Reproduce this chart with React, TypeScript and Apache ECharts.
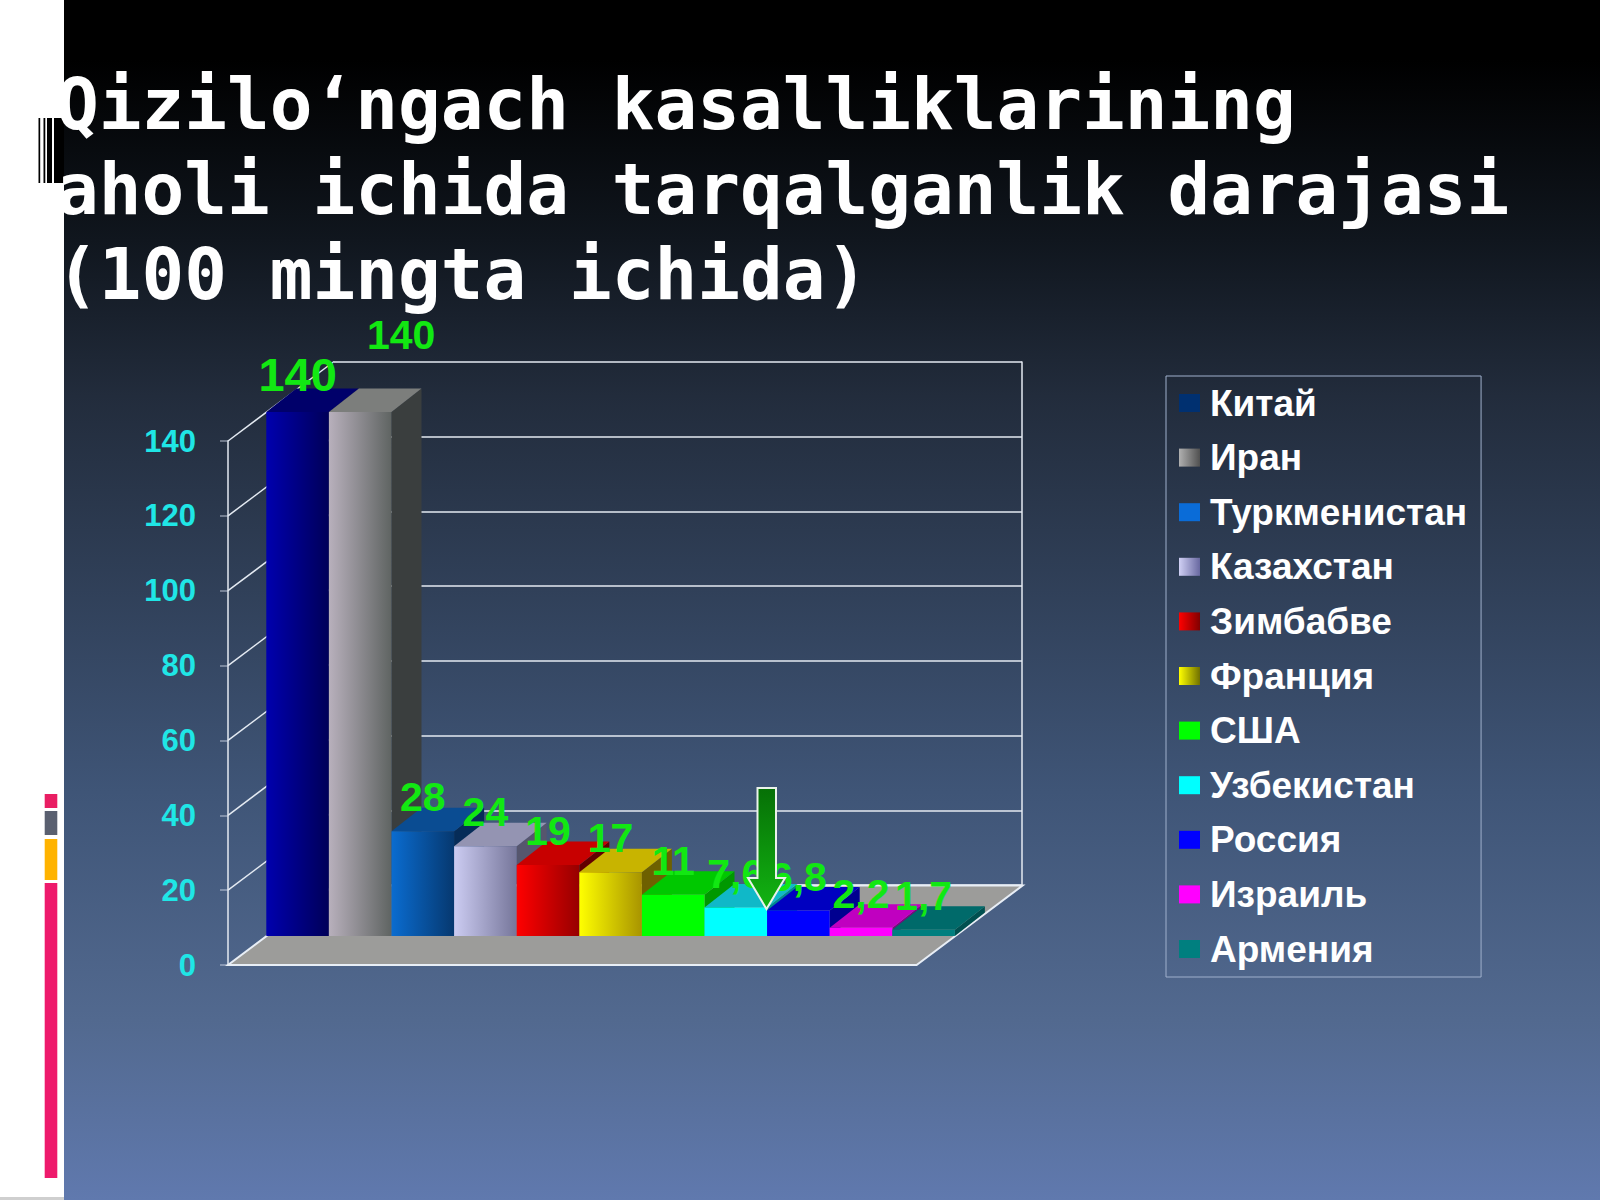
import React, { useEffect, useRef } from "react";
import * as echarts from "echarts";

const titleLines = ["Qizilo‘ngach kasalliklarining", "aholi ichida tarqalganlik darajasi", "(100 mingta ichida)"];
const categories = ["Китай", "Иран", "Туркменистан", "Казахстан", "Зимбабве", "Франция", "США", "Узбекистан", "Россия", "Израиль", "Армения"];
const values = [140, 140, 28, 24, 19, 17, 11, 7.6, 6.8, 2.2, 1.7];
const axisTicks = [0, 20, 40, 60, 80, 100, 120, 140];

const frontColors = [
  ["#0000AE", "#000058"], ["#B8B0BC", "#5F6462"], ["#0A6CD0", "#06386F"], ["#CCCCF2", "#76769A"],
  ["#FF0000", "#960000"], ["#FFFF00", "#A89400"], ["#00FF00", "#00FF00"], ["#00FFFF", "#00FFFF"],
  ["#0000FF", "#0000FF"], ["#FF00FF", "#FF00FF"], ["#007F7F", "#007F7F"],
];
const topColors = ["#00006A", "#7C7E7C", "#0A4C92", "#9494B2", "#C80000", "#C8B400", "#00C800", "#10B8C8", "#0000C0", "#C000C0", "#006A6A"];
const sideColors = ["#000040", "#3A3E3E", "#062C58", "#56566E", "#620000", "#6E6000", "#009800", "#008890", "#000090", "#800080", "#005050"];
const legendColors = [
  ["#003070", "#003070"], ["#B0B0B0", "#505050"], ["#0A6CD8", "#0A6CD8"], ["#D0D0F4", "#6868A0"],
  ["#FF0000", "#800000"], ["#FFFF00", "#707000"], ["#00FF00", "#00FF00"], ["#00FFFF", "#00FFFF"],
  ["#0000FF", "#0000FF"], ["#FF00FF", "#FF00FF"], ["#007F7F", "#007F7F"],
];

const FRONT = { left: 228, top: 441, width: 688.6, height: 524 };
const BACK = { left: 334, top: 362, width: 688, height: 523 };
const WALL_DX = 106;
const WALL_DY = 79.5;
const PLANE_DX = 38.3;
const PLANE_DY = 29;
const BAR_DX = 30;
const BAR_DY = 23.5;

const hGrad = (a: string, b: string) => new echarts.graphic.LinearGradient(0, 0, 1, 0, [{ offset: 0, color: a }, { offset: 1, color: b }]);
const fmt = (v: number) => String(v).replace(".", ",");

const frameItem = (params: any, api: any) => {
  const v = api.value(0);
  const y = api.coord([0, v])[1];
  const x = params.coordSys.x;
  const children: any[] = [];
  if (v === 0) {
    children.push({
      type: "polygon",
      shape: { points: [[x, y], [x + params.coordSys.width, y], [x + params.coordSys.width + WALL_DX, y - WALL_DY], [x + WALL_DX, y - WALL_DY]] },
      style: { fill: "#9C9C9A", stroke: "#E8EEF6", lineWidth: 2 },
    });
  } else {
    children.push({
      type: "line",
      shape: { x1: x, y1: y, x2: x + WALL_DX, y2: y - WALL_DY },
      style: { stroke: "#E4EAF2", lineWidth: 1.5 },
    });
  }
  return { type: "group", children };
};

const barItem = (i: number) => (_params: any, api: any) => {
  const idx = api.value(0);
  const v = api.value(1);
  const top = api.coord([idx, v]);
  const base = api.coord([idx, 0]);
  const w = api.size([1, 0])[0];
  const x0 = top[0] - w / 2 + PLANE_DX;
  const x1 = x0 + w;
  const yT = top[1] - PLANE_DY;
  const yB = base[1] - PLANE_DY;
  let lx = top[0] + PLANE_DX;
  let ly = yT - 34;
  let size = 41;
  if (i === 0) { ly = yT - 38; size = 47; }
  if (i === 1) { lx += 41; ly = yT - 77; size = 41; }
  return {
    type: "group",
    children: [
      { type: "polygon", shape: { points: [[x1, yB], [x1 + BAR_DX, yB - BAR_DY], [x1 + BAR_DX, yT - BAR_DY], [x1, yT]] }, style: { fill: sideColors[i] } },
      { type: "polygon", shape: { points: [[x0, yT], [x1, yT], [x1 + BAR_DX, yT - BAR_DY], [x0 + BAR_DX, yT - BAR_DY]] }, style: { fill: topColors[i] } },
      { type: "rect", shape: { x: x0, y: yT, width: w, height: yB - yT }, style: { fill: hGrad(frontColors[i][0], frontColors[i][1]) } },
      {
        type: "text",
        z2: 200,
        style: {
          x: lx, y: ly, text: fmt(v), align: "center", verticalAlign: "middle", fill: "#12E812",
          fontFamily: "Liberation Sans", fontSize: size, fontWeight: "bold", lineHeight: 30,
        },
      },
    ],
  };
};

const stripeBars = [[44.7, 794, 12.6, 14, "#E91E63"], [44.7, 811, 12.6, 24, "#5A6070"], [44.7, 839, 12.6, 41, "#FFB300"], [44.7, 883, 12.6, 295, "#EE1A6C"]];
const barcode = [[38.5, 1.7], [43.5, 1.8], [47, 5], [54, 10]];

export default function App() {
  const ref = useRef<HTMLDivElement>(null);
  useEffect(() => {
    const chart = echarts.init(ref.current!, null, { renderer: "svg", width: 1600, height: 1200 });
    const graphicEls: any[] = [
      {
        type: "rect", z: -20, shape: { x: 64, y: 0, width: 1536, height: 1200 },
        style: {
          fill: new echarts.graphic.LinearGradient(0, 0, 0, 1, [
            { offset: 0, color: "#000000" }, { offset: 0.05, color: "#000000" }, { offset: 0.2, color: "#10161E" },
            { offset: 0.33, color: "#222C3C" }, { offset: 0.66, color: "#3F5577" }, { offset: 0.85, color: "#52698F" }, { offset: 1, color: "#6079AE" },
          ]),
        },
      },
      { type: "rect", z: -20, shape: { x: 0, y: 1197, width: 64, height: 3 }, style: { fill: "#CFCFCF" } },
      ...stripeBars.map(([x, y, w, h, c]) => ({ type: "rect", z: -10, shape: { x, y, width: w, height: h }, style: { fill: c } })),
      ...barcode.map(([x, w]) => ({ type: "rect", z: -10, shape: { x, y: 118, width: w, height: 65 }, style: { fill: "#000" } })),
      {
        type: "polygon", z: 10,
        shape: { points: [[757.5, 788], [776, 788], [776, 878], [785, 878], [766.5, 909], [748, 878], [757.5, 878]] },
        style: {
          fill: new echarts.graphic.LinearGradient(0, 0, 0, 1, [{ offset: 0, color: "#067006" }, { offset: 1, color: "#12B412" }]),
          stroke: "#EAF2EA", lineWidth: 2,
        },
      },
    ];
    chart.setOption({
      animation: false,
      backgroundColor: "#FFFFFF",
      title: {
        text: titleLines.join("\n"), left: 56, top: 62, padding: 0,
        textStyle: { color: "#FFFFFF", fontFamily: "DejaVu Sans Mono", fontWeight: "bold", fontSize: 71, lineHeight: 85 },
      },
      legend: {
        orient: "vertical", left: 1166, top: 376, padding: [7, 14, 8, 13],
        borderColor: "#9FB0CC", borderWidth: 1, selectedMode: false,
        itemWidth: 21, itemHeight: 18, itemGap: 14.6, align: "left",
        textStyle: { color: "#FFFFFF", fontFamily: "Liberation Sans", fontWeight: "bold", fontSize: 37, lineHeight: 40, padding: [0, 0, 0, 5] },
        data: categories.map((name, i) => ({ name, icon: "rect", itemStyle: { color: hGrad(legendColors[i][0], legendColors[i][1]) } })),
      },
      grid: [{ ...FRONT }, { ...BACK }],
      xAxis: [
        { type: "category", gridIndex: 0, data: categories, show: false },
        { type: "category", gridIndex: 1, data: categories, show: false },
      ],
      yAxis: [
        {
          type: "value", gridIndex: 0, min: 0, max: 140, interval: 20, position: "left",
          axisLine: { show: true, onZero: false, lineStyle: { color: "#E4EAF2", width: 1.5 } },
          axisTick: { show: true, length: 8, lineStyle: { color: "rgba(220,228,240,0.55)", width: 1.5 } },
          splitLine: { show: false },
          axisLabel: { color: "#1FE6E6", fontFamily: "Liberation Sans", fontWeight: "bold", fontSize: 31, margin: 32 },
        },
        {
          type: "value", gridIndex: 1, min: 0, max: 140, interval: 20, position: "right",
          axisLine: { show: true, onZero: false, lineStyle: { color: "#E4EAF2", width: 1.5 } },
          axisTick: { show: false }, axisLabel: { show: false },
          splitLine: { show: true, lineStyle: { color: "#E4EAF2", width: 1.5 } },
        },
      ],
      series: [
        {
          type: "custom", name: "frame", xAxisIndex: 0, yAxisIndex: 0, silent: true, clip: false,
          data: axisTicks.map((t) => [t]), encode: { y: 0 }, renderItem: frameItem,
        },
        ...categories.map((name, i) => ({
          type: "custom", name, xAxisIndex: 0, yAxisIndex: 0, clip: false,
          data: [[i, values[i]]], encode: { x: 0, y: 1 }, renderItem: barItem(i),
          itemStyle: { color: frontColors[i][0] },
        })),
      ],
      graphic: { elements: graphicEls },
    });
    return () => chart.dispose();
  }, []);
  return <div ref={ref} style={{ position: "fixed", left: 0, top: 0, width: 1600, height: 1200 }} />;
}
